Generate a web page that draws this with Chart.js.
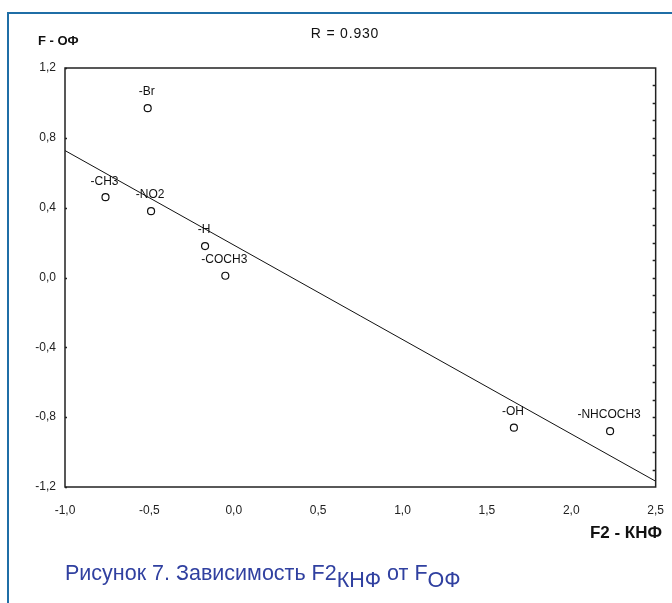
<!DOCTYPE html>
<html>
<head>
<meta charset="utf-8">
<script src="https://cdn.jsdelivr.net/npm/chart.js@4.4.1/dist/chart.umd.min.js"></script>
<style>
  html, body { margin: 0; padding: 0; background: #fff; }
  body { width: 672px; height: 603px; position: relative; overflow: hidden; font-family: "Liberation Sans", Arial, sans-serif; }
  #frame { position: absolute; left: 7px; top: 12px; width: 700px; height: 700px; border-left: 2px solid #1f6ea6; border-top: 2px solid #1f6ea6; }
  canvas { position: absolute; left: 0; top: 0; }
  .t { position: absolute; white-space: nowrap; color: #111; }
  #ytitle { left: 38px; top: 33px; font-size: 13px; font-weight: bold; line-height: 16px; }
  #rtext { left: 345px; top: 25px; font-size: 14px; letter-spacing: 0.8px; line-height: 16px; transform: translateX(-50%); }
  #xtitle { right: 10px; top: 523px; font-size: 17px; font-weight: bold; line-height: 19px; }
  #caption { left: 65px; top: 560px; font-size: 21.5px; line-height: 26px; color: #3040a0; }
  #caption .s { position: relative; top: 7px; }
</style>
</head>
<body>
<div id="frame"></div>
<canvas id="c" width="672" height="603"></canvas>
<div class="t" id="ytitle">F - ОФ</div>
<div class="t" id="rtext">R = 0.930</div>
<div class="t" id="xtitle">F2 - КНФ</div>
<div class="t" id="caption">Рисунок 7. Зависимость F2<span class="s">КНФ</span> от F<span class="s">ОФ</span></div>
<script>
// ---- data ----
const pointLabels = ['-Br', '-CH3', '-NO2', '-H', '-COCH3', '-OH', '-NHCOCH3'];
const xValues = [-0.51, -0.76, -0.49, -0.17, -0.05, 1.66, 2.23];
const yValues = [0.97, 0.46, 0.38, 0.18, 0.01, -0.86, -0.88];
const fitX = [-1.0, 2.5];
const fitY = [0.727, -1.167];
const xTickValues = [-1.0, -0.5, 0.0, 0.5, 1.0, 1.5, 2.0, 2.5];
const xTickLabels = ['-1,0', '-0,5', '0,0', '0,5', '1,0', '1,5', '2,0', '2,5'];
const yTickValues = [-1.2, -0.8, -0.4, 0.0, 0.4, 0.8, 1.2];
const yTickLabels = ['-1,2', '-0,8', '-0,4', '0,0', '0,4', '0,8', '1,2'];

function labelFor(values, labels, v) {
  for (let i = 0; i < values.length; i++) if (Math.abs(values[i] - v) < 1e-6) return labels[i];
  return '';
}

const framePlugin = {
  id: 'framePlugin',
  afterDraw(chart) {
    const ctx = chart.ctx, a = chart.chartArea;
    const ys = chart.scales.y;
    ctx.save();
    ctx.strokeStyle = '#222';
    ctx.lineWidth = 1.5;
    ctx.strokeRect(a.left, a.top, a.right - a.left, a.bottom - a.top);
    // left major ticks inward
    yTickValues.forEach(v => {
      const py = Math.round(ys.getPixelForValue(v)) + 0.5;
      ctx.beginPath(); ctx.moveTo(a.left, py); ctx.lineTo(a.left + 2, py); ctx.stroke();
    });
    // right minor ticks inward every 0.1
    for (let k = -11; k <= 11; k++) {
      const py = Math.round(ys.getPixelForValue(k / 10)) + 0.5;
      ctx.beginPath(); ctx.moveTo(a.right, py); ctx.lineTo(a.right - 3, py); ctx.stroke();
    }
    // point labels
    const meta = chart.getDatasetMeta(0);
    ctx.fillStyle = '#111';
    ctx.font = '12px "Liberation Sans", Arial, sans-serif';
    ctx.textAlign = 'center';
    ctx.textBaseline = 'middle';
    meta.data.forEach((el, i) => {
      ctx.fillText(pointLabels[i], el.x - 1, el.y - 16);
    });
    ctx.restore();
  }
};

new Chart(document.getElementById('c'), {
  type: 'scatter',
  data: {
    datasets: [
      {
        data: xValues.map((x, i) => ({ x: x, y: yValues[i] })),
        pointRadius: 3.5,
        pointHoverRadius: 3.5,
        pointBorderWidth: 1.2,
        pointBorderColor: '#111',
        pointBackgroundColor: 'rgba(255,255,255,0)',
        showLine: false,
        order: 1
      },
      {
        data: fitX.map((x, i) => ({ x: x, y: fitY[i] })),
        showLine: true,
        borderColor: '#111',
        borderWidth: 1,
        pointRadius: 0,
        fill: false,
        order: 2
      }
    ]
  },
  options: {
    responsive: false,
    animation: false,
    devicePixelRatio: 1,
    layout: { padding: { top: 68, right: 3, bottom: 76, left: 0 } },
    plugins: { legend: { display: false }, tooltip: { enabled: false }, title: { display: false } },
    scales: {
      x: {
        type: 'linear', min: -1.0, max: 2.5,
        afterBuildTicks(s) { s.ticks = xTickValues.map(v => ({ value: v })); },
        afterFit(s) { s.height = 40; },
        grid: { display: false },
        border: { display: false },
        ticks: {
          padding: 8, color: '#222',
          font: { family: '"Liberation Sans", Arial, sans-serif', size: 12 },
          maxRotation: 0, autoSkip: false,
          callback: v => labelFor(xTickValues, xTickLabels, v)
        }
      },
      y: {
        type: 'linear', min: -1.2, max: 1.2,
        afterBuildTicks(s) { s.ticks = yTickValues.map(v => ({ value: v })); },
        afterFit(s) { s.width = 65; },
        grid: { display: false },
        border: { display: false },
        ticks: {
          padding: 1, color: '#222',
          font: { family: '"Liberation Sans", Arial, sans-serif', size: 12 },
          autoSkip: false,
          callback: v => labelFor(yTickValues, yTickLabels, v)
        }
      }
    }
  },
  plugins: [framePlugin]
});
</script>
</body>
</html>
